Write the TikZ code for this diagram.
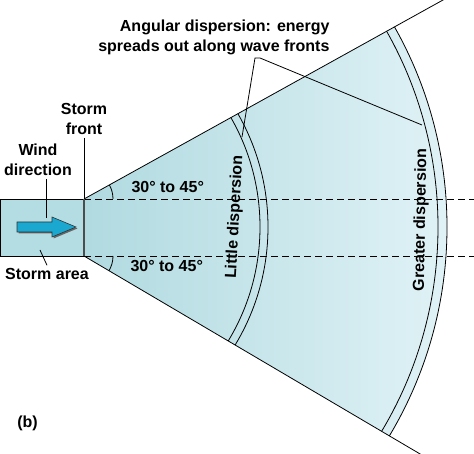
\documentclass[tikz,border=0pt]{standalone}
\usepackage{fontspec}
\setmainfont{Liberation Sans}
\usetikzlibrary{positioning,calc}
\definecolor{stormfill}{HTML}{B4DDE3}
\definecolor{fanleft}{HTML}{B0DAE0}
\definecolor{fanright}{HTML}{E0F2F6}
\definecolor{arrowcyan}{HTML}{1AA7D0}

\begin{document}
\begin{tikzpicture}[x=1pt, y=1pt,
    label/.style={font=\fontsize{16}{20}\selectfont\bfseries, align=center},
    edge/.style={draw=black, line width=0.8pt},
    guide/.style={dash pattern=on 7pt off 4pt, line width=0.8pt},
    wavefront/.style={draw=black, line width=0.8pt}
]
    \clip (0,0) rectangle (474,453);

    % Key points
    \coordinate (top) at (84,254);
    \coordinate (bot) at (84,197);
    \coordinate (centre) at (40,226);

    % Fan of spreading waves
    \begin{scope}
        \clip (top) -- ++(29:600) -- ($(bot)+(-30.5:600)$) -- (bot) -- cycle;
        \begin{scope}
            \clip (centre) circle (407);
            \shade[left color=fanleft, right color=fanright] (84,0) rectangle (447,453);
        \end{scope}
        \foreach \r in {220,228,398,407}
            \draw[wavefront] (centre) circle (\r);
    \end{scope}
    \draw[edge] (top) -- ++(29:450);
    \draw[edge] (bot) -- ++(-30.5:450);

    % Dashed guides
    \draw[guide] (top) -- ++(390,0);
    \draw[guide] (bot) -- ++(390,0);

    % Angle marks
    \draw[edge] ($(top)+(29,0)$) arc (0:29:29);
    \draw[edge] ($(bot)+(29,0)$) arc (0:-30.5:29);
    \node[label, anchor=base west] (uangle) at (128,260) {30° to 45°};
    \node[label, anchor=base west] (langle) at (127,181) {30° to 45°};

    % Storm area
    \draw[edge, fill=stormfill] (0.5,197) rectangle (top);
    \draw[line width=1.3pt, black!70] (top) -- (bot);

    % Wind arrow
    \fill[black!60] (18.5,219.5) -- (53.5,219.5) -- (53.5,214.5) -- (77.5,224.5)
        -- (53.5,234.5) -- (53.5,229.5) -- (18.5,229.5) -- cycle;
    \draw[fill=arrowcyan, line width=0.6pt, draw=black!80] (17,221) -- (52,221) -- (52,216)
        -- (76,226) -- (52,236) -- (52,231) -- (17,231) -- cycle;

    % Labels
    \node[label, anchor=south] (stormfront) at (84,315) {Storm\\front};
    \draw[edge] (stormfront) -- (top);

    \node[label] (wind) at (38,293) {Wind\\direction};
    \coordinate (windtip) at (46,235);
    \draw[edge] (wind.south -| windtip) -- (windtip);

    \node[label, anchor=base] (area) at (47,173) {Storm area};
    \coordinate (areapt) at (40,203);
    \draw[edge] (areapt) -- (area.north);

    \node[label, align=right, anchor=south east] (angular) at (333,395)
        {Angular dispersion: energy\\spreads out along wave fronts};
    \coordinate (bendl) at (255,395);
    \coordinate (bendr) at (260,395);
    \coordinate (littlept) at (242,316);
    \coordinate (greaterpt) at (422,328);
    \draw[edge] (littlept) -- (bendl) -- (bendr) -- (greaterpt);

    \node[label, rotate=87] (little) at (235,236) {Little dispersion};
    \node[label, rotate=89] (greater) at (421,233) {Greater dispersion};

    \node[label] (panel) at (27.5,29.5) {(b)};
\end{tikzpicture}
\end{document}
